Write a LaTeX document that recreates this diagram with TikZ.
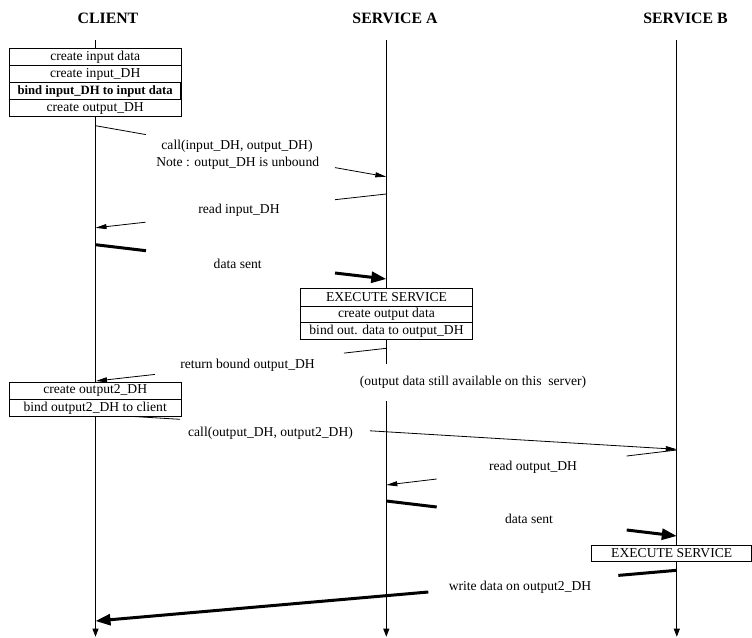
\documentclass[tikz,border=0pt]{standalone}
\usepackage{fontspec}
\setmainfont{Liberation Serif}
\usetikzlibrary{arrows.meta}
\tikzset{
  lifeline/.style={line width=0.8pt,-{Triangle[length=8pt,width=6pt]}},
  msgline/.style={line width=0.8pt},
  msgarrow/.style={line width=0.8pt,-{Triangle[length=11pt,width=5pt]}},
  fatline/.style={line width=3pt},
  fatarrow/.style={line width=3pt,-{Triangle[length=15pt,width=11pt]}},
  lbl/.style={font=\fontsize{13.6}{15}\selectfont, inner sep=0pt},
  hdr/.style={font=\fontsize{15.8}{18}\selectfont\bfseries, inner sep=0pt},
  rowbox/.style={draw, fill=white, line width=0.8pt, minimum width=171.7pt,
    minimum height=17pt, inner sep=0pt, font=\fontsize{13.6}{15}\selectfont},
  boldrow/.style={rowbox, line width=1.3pt, font=\fontsize{12.7}{15}\selectfont\bfseries},
}
\begin{document}
\begin{tikzpicture}[x=1pt,y=-1pt]
\useasboundingbox (0,0) rectangle (752,637);

% headers
\node[hdr] (hc) at (108,18) {CLIENT};
\node[hdr] (ha) at (395,18) {SERVICE A};
\node[hdr] (hb) at (685.5,18) {SERVICE B};

% lifelines
\coordinate (ct) at (95.5,40);   \coordinate (cb) at (95.5,636.7);
\coordinate (at) at (386.3,40);  \coordinate (ab) at (386.3,636.7);
\coordinate (bt) at (676.8,40);  \coordinate (bb) at (676.8,636.7);
\draw[lifeline] (ct) -- (cb);
\draw[lifeline] (at) -- (ab);
\draw[lifeline] (bt) -- (bb);

% M1 call(input_DH, output_DH)
\coordinate (m1s) at (95.5,125.7);  \coordinate (m1g1) at (146,134.6);
\coordinate (m1g2) at (335,167.6);  \coordinate (m1e) at (386.3,176.7);
\draw[msgline] (m1s) -- (m1g1);
\draw[msgarrow] (m1g2) -- (m1e);
\node[lbl] (l1a) at (237,146.7) {call(input\_DH, output\_DH)};
\node[lbl] (l1b) at (237.7,163.3) {Note : output\_DH is unbound};

% M2 read input_DH
\coordinate (m2s) at (386.3,194);  \coordinate (m2g1) at (335,199.7);
\coordinate (m2g2) at (145.7,222.2); \coordinate (m2e) at (95.5,227.8);
\draw[msgline] (m2s) -- (m2g1);
\draw[msgarrow] (m2g2) -- (m2e);
\node[lbl] (l2) at (239,210) {read input\_DH};

% M3 data sent
\coordinate (m3s) at (95.5,244.7);  \coordinate (m3g1) at (146,250.7);
\coordinate (m3g2) at (335,273);    \coordinate (m3e) at (386.3,279);
\draw[fatline] (m3s) -- (m3g1);
\draw[fatarrow] (m3g2) -- (m3e);
\node[lbl] (l3) at (237.7,264) {data sent};

% M4 return bound output_DH
\coordinate (m4s) at (386.3,348.3); \coordinate (m4g1) at (344,353.1);
\coordinate (m4g2) at (155,374.4);  \coordinate (m4e) at (96,381);
\draw[msgline] (m4s) -- (m4g1);
\draw[msgarrow] (m4g2) -- (m4e);
\node[lbl] (l4) at (247.5,365) {return bound output\_DH};
\node[lbl, fill=white, inner ysep=12pt] (l4b) at (473,382.5) {(output data still available on this\ \ server)};

% M5 call(output_DH, output2_DH)
\coordinate (m5s) at (95.5,414.2);  \coordinate (m5g1) at (180,419.3);
\coordinate (m5g2) at (370,430.8);  \coordinate (m5e) at (676.8,449.3);
\draw[msgline] (m5s) -- (m5g1);
\draw[msgarrow] (m5g2) -- (m5e);
\node[lbl] (l5) at (270.5,433.3) {call(output\_DH, output2\_DH)};

% M6 read output_DH
\coordinate (m6s) at (676.8,450);   \coordinate (m6g1) at (626.7,456);
\coordinate (m6g2) at (436.7,479);  \coordinate (m6e) at (386.3,485);
\draw[msgline] (m6s) -- (m6g1);
\draw[msgarrow] (m6g2) -- (m6e);
\node[lbl] (l6) at (533,467.7) {read output\_DH};

% M7 data sent
\coordinate (m7s) at (386.3,501);   \coordinate (m7g1) at (436.7,507);
\coordinate (m7g2) at (626.7,530);  \coordinate (m7e) at (676.8,536);
\draw[fatline] (m7s) -- (m7g1);
\draw[fatarrow] (m7g2) -- (m7e);
\node[lbl] (l7) at (529,519.3) {data sent};

% M8 write data on output2_DH
\coordinate (m8s) at (676.8,570.3); \coordinate (m8g1) at (618.3,575.4);
\coordinate (m8g2) at (428.3,592);  \coordinate (m8e) at (95.5,621);
\draw[fatline] (m8s) -- (m8g1);
\draw[fatarrow] (m8g2) -- (m8e);
\node[lbl] (l8) at (520,587.3) {write data on output2\_DH};

% client boxes
\node[rowbox] (c1) at (95.2,57) {create input data};
\node[rowbox] (c2) at (95.2,74.1) {create input\_DH};
\node[boldrow] (c3) at (95.2,91.2) {bind input\_DH to input data};
\node[rowbox] (c4) at (95.2,108.2) {create output\_DH};

\node[rowbox] (c5) at (95.2,390.8) {create output2\_DH};
\node[rowbox] (c6) at (95.2,407.8) {bind output2\_DH to client};

% service A box
\node[rowbox, minimum height=18.5pt] (a1) at (386.5,297.2) {EXECUTE SERVICE};
\node[rowbox, minimum height=16.3pt] (a2) at (386.5,314.6) {create output data};
\node[rowbox, minimum height=16.6pt] (a3) at (386.5,331) {bind out. data to output\_DH};

% service B box
\node[rowbox, minimum width=160pt, minimum height=16.7pt] (b1) at (671.7,553.3) {EXECUTE SERVICE};
\end{tikzpicture}
\end{document}
